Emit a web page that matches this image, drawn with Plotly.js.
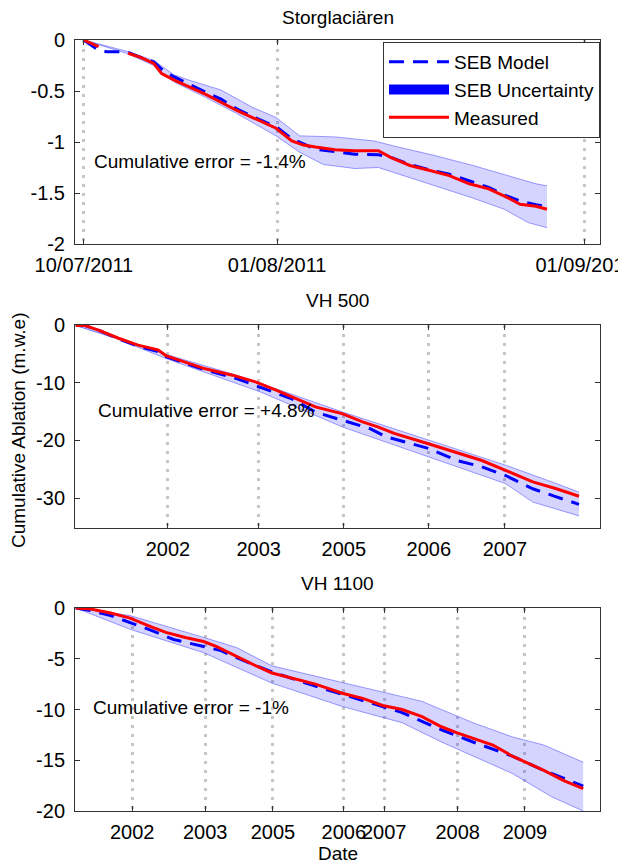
<!DOCTYPE html>
<html>
<head>
<meta charset="utf-8">
<script src="https://cdn.plot.ly/plotly-3.0.1.min.js"></script>
<style>
  html, body { margin: 0; padding: 0; background: #fff; }
  #chart { width: 618px; height: 864px; }
</style>
</head>
<body>
<div id="chart"></div>
<script>
// ---------- Storglaciären (time index 0-100 along the plotted period) ----------
const storTickPos = [1.7, 38.5, 97.1];
const storTickLabels = ['10/07/2011', '01/08/2011', '01/09/2011'];
const storYTicks = [0, -0.5, -1, -1.5, -2];
const storYLabels = ['0', '-0.5', '-1', '-1.5', '-2'];
const storMeasX = [1.65, 4.5, null, 10.1, 12.5, 15.0, 16.5, 18.8, 21.8, 24.8, 27.8, 30.8, 33.8, 36.0, 38.3, 41.3, 43.5, 45.8, 49.5, 53.3, 57.8, 60.1, 63.8, 67.6, 71.3, 75.1, 78.8, 81.8, 84.8, 87.8, 89.9];
const storMeasY = [0, -0.066, null, -0.13, -0.17, -0.23, -0.33, -0.39, -0.46, -0.53, -0.61, -0.69, -0.76, -0.81, -0.865, -0.99, -1.03, -1.05, -1.075, -1.085, -1.085, -1.15, -1.23, -1.28, -1.33, -1.41, -1.46, -1.53, -1.61, -1.63, -1.66];
const storModX = [1.65, 4.5, 6.0, 9.8, 12.5, 15.0, 16.8, 18.8, 24.8, 27.8, 30.8, 33.8, 38.3, 41.3, 45.8, 50.3, 53.3, 57.8, 60.1, 63.8, 67.6, 71.3, 75.1, 78.8, 81.8, 84.8, 87.8, 89.9];
const storModY = [0, -0.10, -0.115, -0.115, -0.17, -0.215, -0.30, -0.36, -0.51, -0.58, -0.675, -0.75, -0.85, -0.97, -1.07, -1.10, -1.12, -1.125, -1.15, -1.22, -1.275, -1.315, -1.38, -1.445, -1.52, -1.58, -1.615, -1.635];
const storUpX = [1.65, 9.8, 15.0, 18.8, 21.8, 27.8, 33.8, 38.3, 42.8, 49.5, 57.0, 60.8, 68.3, 75.8, 81.8, 87.8, 89.9];
const storUpY = [0, -0.11, -0.20, -0.34, -0.395, -0.49, -0.66, -0.76, -0.94, -0.95, -0.99, -1.04, -1.13, -1.23, -1.32, -1.41, -1.43];
const storLoX = [1.65, 9.8, 15.0, 18.8, 24.8, 30.8, 38.3, 42.8, 47.3, 53.3, 57.8, 60.8, 68.3, 75.8, 81.8, 86.3, 89.9];
const storLoY = [0, -0.13, -0.25, -0.41, -0.56, -0.72, -0.94, -1.10, -1.22, -1.26, -1.25, -1.30, -1.43, -1.55, -1.66, -1.79, -1.84];

// ---------- VH 500 ----------
const vh500TickPos = [17.7, 35.0, 51.2, 67.4, 81.9];
const vh500TickLabels = ['2002', '2003', '2005', '2006', '2007'];
const vh500YTicks = [0, -10, -20, -30];
const vh500YLabels = ['0', '-10', '-20', '-30'];
const vh500MeasX = [0.15, 1.9, 4.5, 8.3, 12.0, 15.8, 17.3, 21.0, 24.8, 30.0, 34.5, 38.3, 42.8, 45.8, 51.0, 54.8, 57.8, 60.8, 67.3, 72.2, 77.5, 82.0, 87.2, 91.7, 96.0];
const vh500MeasY = [-0.1, -0.1, -0.9, -2.3, -3.5, -4.3, -5.3, -6.4, -7.6, -8.7, -9.9, -11.3, -13.1, -14.2, -15.4, -16.8, -17.7, -18.8, -20.6, -22.0, -23.5, -25.2, -27.2, -28.4, -29.7];
const vh500ModX = [0.15, 1.9, 4.5, 8.3, 12.0, 15.8, 17.3, 21.0, 24.8, 30.8, 35.3, 41.3, 45.8, 51.0, 56.3, 59.3, 67.3, 72.8, 77.5, 82.0, 87.2, 91.7, 96.0];
const vh500ModY = [-0.1, -0.1, -0.9, -2.4, -3.7, -4.6, -5.5, -6.7, -7.8, -9.3, -10.8, -12.8, -15.1, -16.5, -18.0, -19.4, -21.4, -23.5, -24.6, -26.1, -28.4, -29.8, -31.1];
const vh500UpX = [0.15, 8.3, 17.3, 30.8, 51.0, 67.3, 82.0, 91.7, 96.0];
const vh500UpY = [-0.1, -2.2, -5.1, -8.7, -15.1, -20.0, -24.3, -27.5, -29.0];
const vh500LoX = [0.15, 8.3, 17.3, 35.3, 51.0, 67.3, 82.0, 87.2, 96.0];
const vh500LoY = [-0.1, -2.5, -5.8, -11.6, -17.7, -22.9, -27.5, -30.7, -33.1];

// ---------- VH 1100 ----------
const vh1100TickPos = [10.9, 24.8, 37.7, 51.2, 58.9, 72.9, 85.7];
const vh1100TickLabels = ['2002', '2003', '2005', '2006', '2007', '2008', '2009'];
const vh1100YTicks = [0, -5, -10, -15, -20];
const vh1100YLabels = ['0', '-5', '-10', '-15', '-20'];
const vh1100MeasX = [0.15, 3.0, 6.8, 10.5, 14.3, 17.3, 21.0, 24.5, 27.0, 30.8, 34.5, 37.5, 41.3, 45.8, 50.9, 54.8, 58.6, 62.3, 66.1, 69.8, 72.8, 76.6, 79.6, 83.3, 86.3, 89.3, 93.1, 96.8];
const vh1100MeasY = [0, -0.1, -0.5, -1.0, -1.8, -2.4, -2.9, -3.3, -3.8, -4.8, -5.7, -6.4, -6.9, -7.5, -8.4, -8.9, -9.6, -10.0, -10.7, -11.7, -12.3, -13.0, -13.5, -14.6, -15.3, -16.0, -17.0, -17.8];
const vh1100ModX = [0.15, 3.0, 6.8, 11.3, 14.3, 18.8, 24.0, 27.8, 30.8, 37.5, 45.8, 50.9, 55.6, 62.3, 69.8, 75.8, 83.3, 89.3, 96.8];
const vh1100ModY = [0, -0.25, -0.75, -1.6, -2.15, -3.1, -3.7, -4.2, -4.9, -6.3, -7.7, -8.5, -9.2, -10.3, -12.0, -13.2, -14.6, -16.0, -17.55];
const vh1100UpX = [0.15, 10.5, 24.5, 30.8, 37.5, 45.8, 55.6, 66.1, 75.8, 83.3, 89.3, 96.8];
const vh1100UpY = [0, -0.75, -2.9, -3.9, -5.7, -6.7, -7.9, -9.2, -11.3, -12.7, -13.5, -15.2];
const vh1100LoX = [0.15, 10.5, 24.5, 37.5, 50.9, 62.3, 69.8, 83.3, 90.8, 96.8];
const vh1100LoY = [0, -2.1, -4.4, -7.4, -9.7, -11.3, -13.2, -16.3, -18.6, -20.0];

const errorTexts = ['Cumulative error = -1.4%', 'Cumulative error = +4.8%', 'Cumulative error = -1%'];
const panelTitles = ['Storglaciären', 'VH 500', 'VH 1100'];

const FONT = 'Liberation Sans, Arial, sans-serif';
const BLUE = '#0000ff', RED = '#ff0000';
const BAND_LINE = 'rgba(90,90,255,0.6)', BAND_FILL = 'rgba(0,0,255,0.17)';
const TXT = 19, TICK = 20;

const panels = [
  {xa: 'x', ya: 'y', mX: storMeasX, mY: storMeasY, sX: storModX, sY: storModY, uX: storUpX, uY: storUpY, lX: storLoX, lY: storLoY},
  {xa: 'x2', ya: 'y2', mX: vh500MeasX, mY: vh500MeasY, sX: vh500ModX, sY: vh500ModY, uX: vh500UpX, uY: vh500UpY, lX: vh500LoX, lY: vh500LoY},
  {xa: 'x3', ya: 'y3', mX: vh1100MeasX, mY: vh1100MeasY, sX: vh1100ModX, sY: vh1100ModY, uX: vh1100UpX, uY: vh1100UpY, lX: vh1100LoX, lY: vh1100LoY}
];

const traces = [];
panels.forEach((p, i) => {
  const first = i === 0;
  traces.push({x: p.uX, y: p.uY, xaxis: p.xa, yaxis: p.ya, mode: 'lines', line: {color: BAND_LINE, width: 1}, showlegend: false, hoverinfo: 'skip'});
  traces.push({x: p.lX, y: p.lY, xaxis: p.xa, yaxis: p.ya, mode: 'lines', fill: 'tonexty', fillcolor: BAND_FILL, line: {color: BAND_LINE, width: 1}, showlegend: false, hoverinfo: 'skip'});
  traces.push({x: p.sX, y: p.sY, xaxis: p.xa, yaxis: p.ya, mode: 'lines', name: 'SEB Model', line: {color: BLUE, width: 3, dash: '15px,9px'}, showlegend: first, legendgroup: 'model'});
  if (first) {
    traces.push({x: [null], y: [null], xaxis: p.xa, yaxis: p.ya, mode: 'lines', name: 'SEB Uncertainty', line: {color: BLUE, width: 10}, showlegend: true, legendgroup: 'unc'});
  }
  traces.push({x: p.mX, y: p.mY, xaxis: p.xa, yaxis: p.ya, mode: 'lines', name: 'Measured', line: {color: RED, width: 3}, showlegend: first, legendgroup: 'meas', connectgaps: false});
});

const H = 864;
function dom(top, bottom) { return [1 - bottom / H, 1 - top / H]; }

function xAxis(tickPos, labels, anchor) {
  return {
    domain: [0, 1], anchor: anchor, range: [0, 100],
    tickmode: 'array', tickvals: tickPos, ticktext: labels, tickangle: 0,
    showgrid: true, gridcolor: '#c6c6c6', gridwidth: 3, griddash: '3px,6px',
    zeroline: false, showline: true, linecolor: '#333', linewidth: 1, mirror: 'ticks',
    ticks: 'inside', ticklen: 5, tickcolor: '#333',
    tickfont: {family: FONT, size: TICK, color: '#000'}, ticklabelstandoff: 3,
    ticklabeloverflow: 'allow',
    automargin: false, fixedrange: true
  };
}
function yAxis(domain, range, ticks, labels, anchor) {
  return {
    domain: domain, anchor: anchor, range: range,
    tickmode: 'array', tickvals: ticks, ticktext: labels,
    showgrid: false, zeroline: false, showline: true, linecolor: '#333', linewidth: 1, mirror: 'ticks',
    ticks: 'inside', ticklen: 5, tickcolor: '#333',
    tickfont: {family: FONT, size: TICK, color: '#000'}, ticklabelstandoff: 5,
    automargin: false, fixedrange: true
  };
}

function txt(size) { return {family: FONT, size: size, color: '#000'}; }
const annotations = [
  {text: panelTitles[0], xref: 'paper', yref: 'paper', x: 0.5, y: 1 - 17 / H, xanchor: 'center', yanchor: 'middle', showarrow: false, font: txt(TXT)},
  {text: panelTitles[1], xref: 'paper', yref: 'paper', x: 0.5, y: 1 - 300 / H, xanchor: 'center', yanchor: 'middle', showarrow: false, font: txt(TXT)},
  {text: panelTitles[2], xref: 'paper', yref: 'paper', x: 0.5, y: 1 - 583 / H, xanchor: 'center', yanchor: 'middle', showarrow: false, font: txt(TXT)},
  {text: errorTexts[0], xref: 'x', yref: 'y', x: 3.2, y: -1.19, xanchor: 'left', yanchor: 'middle', showarrow: false, font: txt(TXT)},
  {text: errorTexts[1], xref: 'x2', yref: 'y2', x: 4.0, y: -14.9, xanchor: 'left', yanchor: 'middle', showarrow: false, font: txt(TXT)},
  {text: errorTexts[2], xref: 'x3', yref: 'y3', x: 3.0, y: -9.85, xanchor: 'left', yanchor: 'middle', showarrow: false, font: txt(TXT)},
  {text: 'Cumulative Ablation (m.w.e)', xref: 'paper', yref: 'paper', x: (19 - 75) / 525, y: 1 - 430 / H, xanchor: 'center', yanchor: 'middle', textangle: -90, showarrow: false, font: txt(TXT)},
  {text: 'Date', xref: 'paper', yref: 'paper', x: 0.5, y: 1 - 853 / H, xanchor: 'center', yanchor: 'middle', showarrow: false, font: txt(TXT)}
];

const layout = {
  width: 618, height: 864,
  margin: {l: 75, r: 18, t: 0, b: 0},
  paper_bgcolor: '#fff', plot_bgcolor: '#fff',
  font: {family: FONT, size: TXT, color: '#000'},
  showlegend: true,
  legend: {
    x: 1, y: 1 - 42 / H, xanchor: 'right', yanchor: 'top',
    bgcolor: '#fff', bordercolor: '#333', borderwidth: 1,
    font: txt(TXT),
    itemwidth: 60, tracegroupgap: 0, traceorder: 'normal'
  },
  xaxis: xAxis(storTickPos, storTickLabels, 'y'),
  yaxis: yAxis(dom(40, 244), [-2, 0], storYTicks, storYLabels, 'x'),
  xaxis2: xAxis(vh500TickPos, vh500TickLabels, 'y2'),
  yaxis2: yAxis(dom(325, 528), [-35.2, 0], vh500YTicks, vh500YLabels, 'x2'),
  xaxis3: xAxis(vh1100TickPos, vh1100TickLabels, 'y3'),
  yaxis3: yAxis(dom(608, 811), [-20, 0], vh1100YTicks, vh1100YLabels, 'x3'),
  annotations: annotations
};

Plotly.newPlot('chart', traces, layout, {displayModeBar: false, staticPlot: true});
</script>
</body>
</html>
